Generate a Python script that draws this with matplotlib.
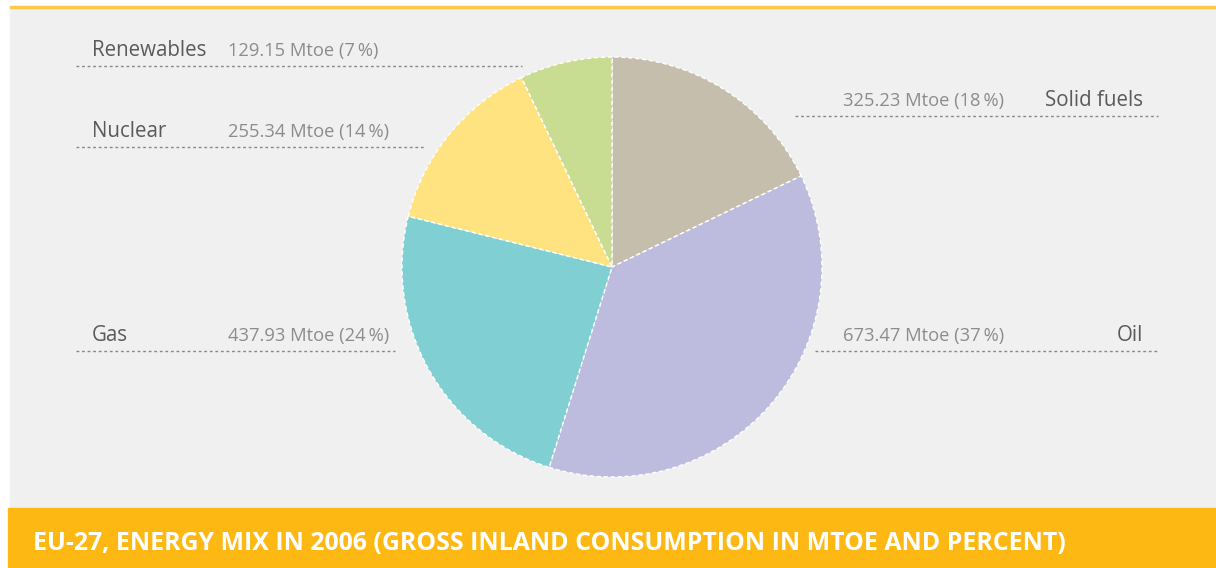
import matplotlib.pyplot as plt
from matplotlib.patches import Rectangle

W, H = 1216, 568

labels = ['Solid fuels', 'Oil', 'Gas', 'Nuclear', 'Renewables']
mtoe = [325.23, 673.47, 437.93, 255.34, 129.15]
pct = [18, 37, 24, 14, 7]
colors = ['#c6bead', '#bebcde', '#80d0d3', '#ffe380', '#c8dd92']
# which side the callout sits on
side = ['right', 'right', 'left', 'left', 'left']

fig = plt.figure(figsize=(W / 100, H / 100), dpi=100)
ax = fig.add_axes([0, 0, 1, 1])
ax.set_xlim(0, W)
ax.set_ylim(0, H)
ax.set_aspect('equal')
ax.axis('off')

def Y(y):
    return H - y

# backgrounds
ax.add_patch(Rectangle((10, Y(508)), W - 10, 500, color='#f0f0f0', zorder=0))
ax.add_patch(Rectangle((10, Y(8)), W - 10, 2, color='#fdc94a', zorder=0))
ax.add_patch(Rectangle((8, 0), W - 8, 60, color='#fdb813', zorder=0))

ax.pie(mtoe, colors=colors, startangle=90, counterclock=False,
       center=(612, Y(267)), radius=210, frame=True,
       wedgeprops=dict(edgecolor='white', linewidth=1, linestyle=(0, (3, 2))))
ax.set_xlim(0, W)
ax.set_ylim(0, H)
ax.axis('off')

font = 'Open Sans'
dark = '#5a5a5a'
light = '#8c8c8c'
line_y = {'Solid fuels': 116, 'Oil': 351, 'Gas': 351, 'Nuclear': 147, 'Renewables': 66}
line_end = {'Gas': 395, 'Nuclear': 425, 'Renewables': 522, 'Solid fuels': 795, 'Oil': 815}

for lab, v, p, s in zip(labels, mtoe, pct, side):
    ly = line_y[lab]
    ty = Y(ly - 10)
    val = f'{v:.2f} Mtoe ({p}\u2009%)'
    if s == 'left':
        ax.plot([76, line_end[lab]], [Y(ly), Y(ly)], color='#888888', lw=1,
                linestyle=(0, (2, 2)), zorder=1)
        ax.text(92, ty, lab, fontsize=14.8, color=dark, family=font,
                ha='left', va='baseline')
        ax.text(228, ty, val, fontsize=13.2, color=light, family=[font, 'DejaVu Sans'],
                ha='left', va='baseline')
    else:
        ax.plot([line_end[lab], 1158], [Y(ly), Y(ly)], color='#888888', lw=1,
                linestyle=(0, (2, 2)), zorder=1)
        ax.text(1143, ty, lab, fontsize=14.8, color=dark, family=font,
                ha='right', va='baseline')
        ax.text(843, ty, val, fontsize=13.2, color=light, family=[font, 'DejaVu Sans'],
                ha='left', va='baseline')

ax.text(33, Y(543), 'EU-27, ENERGY MIX IN 2006 (GROSS INLAND CONSUMPTION IN MTOE AND PERCENT)',
        fontsize=17.9, color='white', fontweight='bold', family=font, ha='left', va='center')

fig.savefig('out.png', dpi=100)
